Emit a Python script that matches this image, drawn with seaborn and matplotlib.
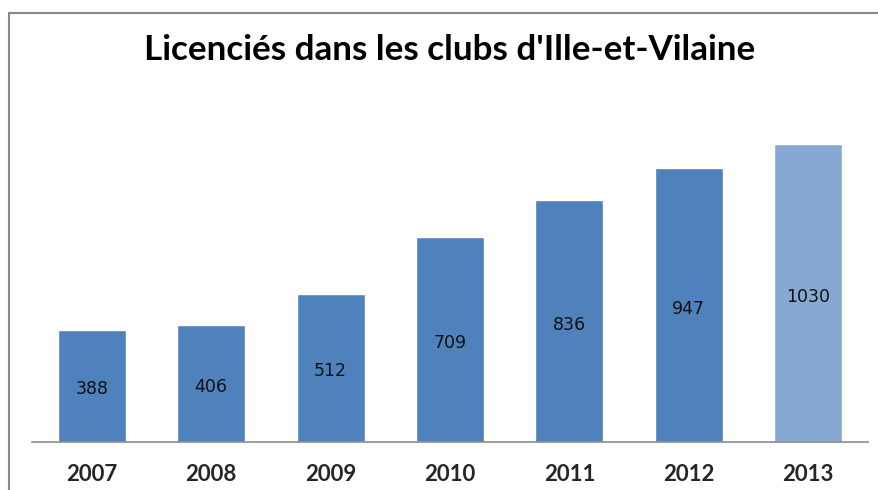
import matplotlib
matplotlib.use("Agg")
import matplotlib.pyplot as plt
import seaborn as sns
import pandas as pd
from matplotlib.lines import Line2D

years = ["2007", "2008", "2009", "2010", "2011", "2012", "2013"]
licencies = [388, 406, 512, 709, 836, 947, 1030]
highlight = ["past", "past", "past", "past", "past", "past", "current"]

df = pd.DataFrame({"annee": years, "licencies": licencies, "groupe": highlight})

sns.set_style("white")

fig = plt.figure(figsize=(8.79, 4.9), dpi=100)
W, H = 879, 490
ax = fig.add_axes([32 / W, (H - 442) / H, 836 / W, 347 / H])

sns.barplot(data=df, x="annee", y="licencies", hue="groupe",
            palette={"past": "#4F81BD", "current": "#87A8D2"},
            dodge=False, width=0.57, legend=False, ax=ax, saturation=1)

for cont in ax.containers:
    labels = ax.bar_label(cont, label_type="center", fontsize=12.5, color="#111111",
                          family="DejaVu Sans")
    for t in labels:
        t.xyann = (0, -2.5)

ax.set_ylim(0, 1200)
ax.set_xlim(-0.5, 6.5)
ax.set_xlabel("")
ax.set_ylabel("")
ax.set_yticks([])
for s in ["top", "right", "left"]:
    ax.spines[s].set_visible(False)
ax.spines["bottom"].set_color("#8C8C8C")
ax.spines["bottom"].set_linewidth(1.2)
ax.tick_params(axis="x", length=0, pad=16)
for lbl in ax.get_xticklabels():
    lbl.set_fontweight("bold")
    lbl.set_fontsize(16)
    lbl.set_family("Lato")

fig.text(450 / W, 1 - 50 / H, "Licenciés dans les clubs d'Ille-et-Vilaine",
         ha="center", va="center", fontsize=25.2, fontweight="bold",
         family="Lato", color="#000000")

# cadre du graphique (coupé à droite et en bas)
fig.add_artist(Line2D([9 / W, 1], [1 - 13 / H, 1 - 13 / H], color="#888888", lw=1.5,
                      transform=fig.transFigure))
fig.add_artist(Line2D([9 / W, 9 / W], [0, 1 - 13 / H], color="#888888", lw=1.5,
                      transform=fig.transFigure))

fig.savefig("out.png", dpi=100)
